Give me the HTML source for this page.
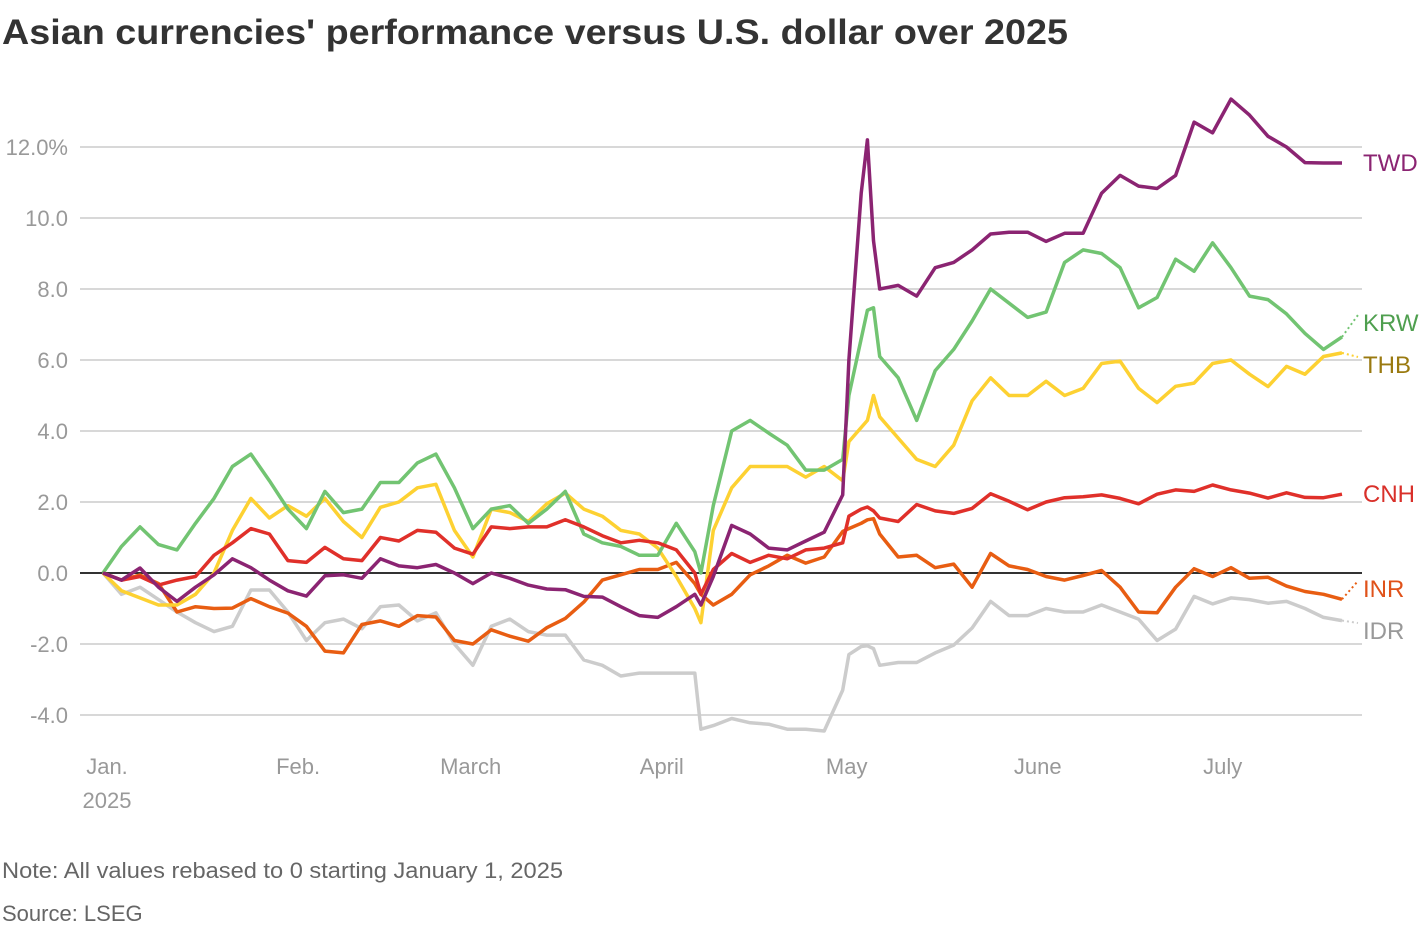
<!DOCTYPE html>
<html><head><meta charset="utf-8">
<style>
html,body{margin:0;padding:0;background:#fff;}
body{width:1420px;height:928px;overflow:hidden;font-family:"Liberation Sans",sans-serif;}
</style></head>
<body>
<svg id="chart" width="1420" height="928" xmlns="http://www.w3.org/2000/svg" font-family="Liberation Sans, sans-serif">
<text x="2" y="44" font-size="35" font-weight="bold" fill="#333" textLength="1066" lengthAdjust="spacingAndGlyphs">Asian currencies' performance versus U.S. dollar over 2025</text>
<g id="grid"></g>
<g id="series"></g>
<g id="labels"></g>
<text x="2" y="878" font-size="22" fill="#666" textLength="561" lengthAdjust="spacingAndGlyphs">Note: All values rebased to 0 starting January 1, 2025</text>
<text x="2" y="921" font-size="22" fill="#666">Source: LSEG</text>
</svg>
<script>
const days = [0,3,6,9,12,15,18,21,24,27,30,33,36,39,42,45,48,51,54,57,60,63,66,69,72,75,78,81,84,87,90,93,96,97,99,102,105,108,111,114,117,120,121,123,124,125,126,129,132,135,138,141,144,147,150,153,156,159,162,165,168,171,174,177,180,183,186,189,192,195,198,201];
const twd = [0,-0.2,0.14,-0.4,-0.8,-0.4,-0.05,0.4,0.15,-0.2,-0.5,-0.65,-0.08,-0.05,-0.15,0.4,0.2,0.15,0.24,0,-0.3,0,-0.15,-0.34,-0.45,-0.47,-0.66,-0.68,-0.95,-1.2,-1.25,-0.95,-0.6,-0.9,-0.1,1.34,1.1,0.7,0.65,0.9,1.15,2.2,6.0,10.7,12.2,9.36,8.0,8.1,7.8,8.6,8.75,9.1,9.55,9.6,9.6,9.34,9.57,9.57,10.7,11.2,10.9,10.83,11.2,12.7,12.4,13.35,12.9,12.3,12.0,11.56,11.55,11.55];
const krw = [0,0.75,1.3,0.8,0.65,1.4,2.1,3.0,3.35,2.6,1.8,1.25,2.3,1.7,1.8,2.55,2.55,3.1,3.35,2.4,1.25,1.8,1.9,1.4,1.8,2.3,1.1,0.85,0.75,0.5,0.5,1.4,0.6,0.0,1.9,4.0,4.3,3.94,3.6,2.9,2.9,3.2,5.0,6.6,7.4,7.47,6.1,5.5,4.3,5.7,6.3,7.1,8.0,7.6,7.2,7.35,8.75,9.1,9.0,8.6,7.47,7.76,8.84,8.5,9.3,8.6,7.8,7.7,7.3,6.75,6.3,6.65];
const thb = [0,-0.5,-0.7,-0.9,-0.9,-0.6,0,1.2,2.1,1.55,1.9,1.6,2.1,1.45,1.0,1.85,2.0,2.4,2.5,1.2,0.45,1.8,1.7,1.45,1.95,2.25,1.8,1.6,1.2,1.1,0.7,-0.1,-1.0,-1.4,1.2,2.4,3.0,3.0,3.0,2.7,3.0,2.6,3.7,4.1,4.3,5.0,4.4,3.8,3.2,3.0,3.6,4.85,5.5,5.0,5.0,5.4,5.0,5.2,5.9,5.97,5.2,4.8,5.26,5.35,5.9,6.0,5.6,5.25,5.82,5.6,6.1,6.2];
const cnh = [0,-0.2,-0.1,-0.34,-0.2,-0.1,0.5,0.85,1.25,1.1,0.35,0.3,0.72,0.4,0.35,1.0,0.9,1.2,1.15,0.7,0.53,1.3,1.25,1.3,1.3,1.5,1.3,1.05,0.85,0.92,0.85,0.65,0,-0.6,0.1,0.55,0.3,0.5,0.4,0.65,0.7,0.85,1.6,1.8,1.86,1.75,1.55,1.45,1.93,1.75,1.68,1.82,2.23,2.02,1.78,2.0,2.12,2.15,2.2,2.1,1.95,2.22,2.34,2.3,2.48,2.34,2.25,2.11,2.26,2.13,2.12,2.22];
const inr = [0,-0.2,-0.06,-0.3,-1.1,-0.95,-1.0,-0.99,-0.72,-0.95,-1.13,-1.5,-2.2,-2.25,-1.45,-1.35,-1.5,-1.2,-1.24,-1.9,-2.0,-1.6,-1.78,-1.92,-1.54,-1.28,-0.82,-0.2,-0.05,0.1,0.1,0.3,-0.3,-0.6,-0.9,-0.6,-0.05,0.2,0.5,0.28,0.45,1.17,1.25,1.4,1.5,1.53,1.1,0.45,0.5,0.15,0.25,-0.4,0.55,0.2,0.1,-0.1,-0.2,-0.07,0.07,-0.4,-1.1,-1.12,-0.4,0.12,-0.1,0.15,-0.15,-0.12,-0.37,-0.52,-0.6,-0.74];
const idr = [0,-0.6,-0.4,-0.75,-1.1,-1.4,-1.65,-1.5,-0.48,-0.48,-1.1,-1.9,-1.4,-1.3,-1.57,-0.95,-0.9,-1.35,-1.12,-2.0,-2.6,-1.5,-1.3,-1.65,-1.75,-1.75,-2.45,-2.6,-2.9,-2.82,-2.82,-2.82,-2.82,-4.4,-4.3,-4.1,-4.22,-4.26,-4.4,-4.4,-4.45,-3.3,-2.3,-2.07,-2.05,-2.13,-2.6,-2.52,-2.52,-2.25,-2.03,-1.55,-0.8,-1.2,-1.2,-1.0,-1.1,-1.1,-0.9,-1.1,-1.3,-1.9,-1.58,-0.66,-0.87,-0.7,-0.75,-0.85,-0.8,-1.0,-1.25,-1.34];
const yTicks = [12,10,8,6,4,2,0,-2,-4];
const yTickLabels = ["12.0%","10.0","8.0","6.0","4.0","2.0","0.0","-2.0","-4.0"];
const monthDays = [0,31,59,90,120,151,181];
const monthLabels = ["Jan.","Feb.","March","April","May","June","July"];

const NS = "http://www.w3.org/2000/svg";
function xs(d){ return 103 + d * (1239/201); }
function ys(v){ return 573 - v * 35.5; }
function mk(tag, attrs, parent){ const e=document.createElementNS(NS,tag); for(const k in attrs) e.setAttribute(k,attrs[k]); parent.appendChild(e); return e; }

const grid=document.getElementById('grid');
yTicks.forEach((t,i)=>{
  const ln=mk('line',{x1:80,x2:1362,y1:ys(t),y2:ys(t),stroke:t===0?'#333':'#ccc','stroke-width':t===0?2:1.5},grid);
  
  
  const tx=mk('text',{x:68,y:ys(t)+8,'font-size':22,fill:'#999','text-anchor':'end'},grid);
  tx.textContent=yTickLabels[i];
  
  
});
monthDays.forEach((d,i)=>{
  const tx=mk('text',{x:xs(d)+4,y:774,'font-size':22,fill:'#999','text-anchor':'middle'},grid);
  tx.textContent=monthLabels[i];
  
  
});
const yr=mk('text',{x:107,y:808,'font-size':22,fill:'#999','text-anchor':'middle'},grid);
yr.textContent='2025';



const seriesDefs=[
  {name:'IDR',vals:idr,color:'#cccccc',text:'#999',ly:631,lead:true},
  {name:'INR',vals:inr,color:'#e85d12',text:'#e0521a',ly:589,lead:true},
  {name:'THB',vals:thb,color:'#fdd132',text:'#9a7a10',ly:365,lead:true},
  {name:'KRW',vals:krw,color:'#72c472',text:'#4f9f4f',ly:323,lead:true},
  {name:'CNH',vals:cnh,color:'#e0302a',text:'#d9302a',ly:494,lead:false},
  {name:'TWD',vals:twd,color:'#8b2472',text:'#8b2472',ly:163,lead:false}
];
const sg=document.getElementById('series'), lg=document.getElementById('labels');
seriesDefs.forEach(s=>{
  const pts=s.vals.map((v,i)=>xs(days[i]).toFixed(1)+','+ys(v).toFixed(1)).join(' ');
  const pl=mk('polyline',{points:pts,fill:'none',stroke:s.color,'stroke-width':3.5,'stroke-linejoin':'round'},sg);
  
  
  const lx=xs(days[days.length-1]), lyv=ys(s.vals[s.vals.length-1]);
  if(s.lead){
    const ld=mk('line',{x1:lx,y1:lyv,x2:1358,y2:s.ly-8,stroke:s.color,'stroke-width':2,'stroke-dasharray':'2,3'},lg);
    
    
  }
  const t=mk('text',{x:1363,y:s.ly+8,'font-size':24,fill:s.text},lg);
  t.textContent=s.name;
  
  
});
</script>
</body></html>
